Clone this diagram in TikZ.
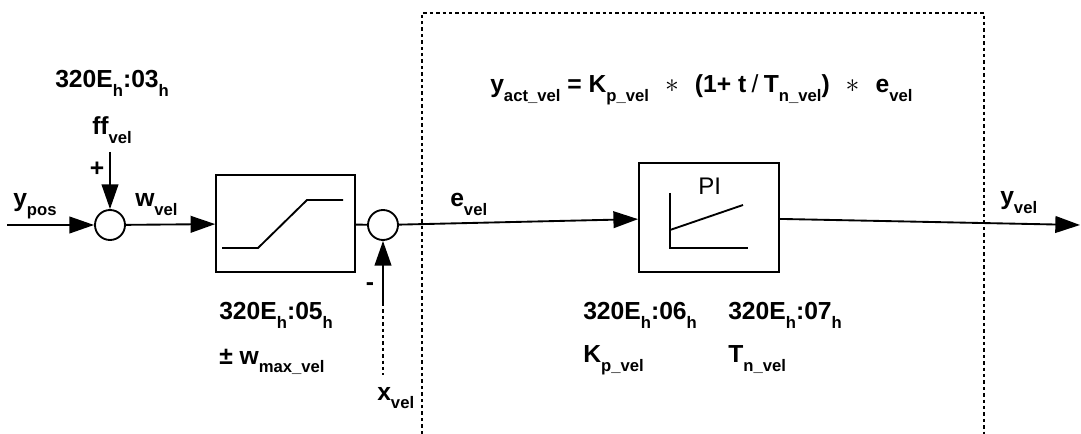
\documentclass[tikz,border=0pt]{standalone}
\usepackage{fontspec}
\setmainfont{Liberation Sans}
\usetikzlibrary{arrows.meta}

\newcommand{\lo}[1]{\raisebox{-6.5pt}{\fontsize{12.5}{13}\selectfont #1}}
\newcommand{\mulsign}{\hspace{12pt}{\fontsize{22}{22}\selectfont$\ast$}\hspace{12pt}}

\tikzset{
  sig/.style={line width=1.4pt},
  flow/.style={sig,-{Triangle[length=18.5pt,width=12.5pt]}},
  sumpt/.style={draw,circle,line width=1.4pt,minimum size=22.5pt,inner sep=0pt},
  blockbox/.style={draw,line width=1.4pt,inner sep=0pt},
  dotline/.style={line width=1.3pt,dash pattern=on 2.6pt off 2.2pt},
  lbl/.style={anchor=base west,inner sep=0pt,font=\fontsize{18.5}{20}\selectfont\bfseries},
}

\begin{document}
\begin{tikzpicture}[x=0.75pt,y=0.75pt,yscale=-1]
\useasboundingbox (0,0) rectangle (1081,434);

%Shape: controller frame
\draw [dotline] (422,434) -- (422,13) -- (984,13) -- (984,434) ;

%Shape: summing points
\node [sumpt] (s1) at (110,225) {};
\node [sumpt] (s2) at (383,225) {};

%Shape: limiter block
\node [blockbox, minimum width=104pt, minimum height=73pt] (lim) at (285.5,223.5) {};
\draw [sig] (222,248) -- (258,248) -- (307,200) -- (343,200) ;

%Shape: PI block
\node [blockbox, minimum width=105pt, minimum height=82pt] (pi) at (709,217.5) {};
\draw [sig] (670,193) -- (670,248) -- (748,248) ;
\draw [sig] (670,230) -- (743,205) ;
\draw (698,195) node [anchor=base west,inner sep=0pt,font=\fontsize{18}{20}\selectfont] (pilbl) {PI};

%Free ends
\coordinate (inp) at (7,225);
\coordinate (ffin) at (110,152);
\coordinate (xmid) at (383,303);
\coordinate (xend) at (383,375);
\coordinate (out) at (1080,225);

%Connectors
\draw [flow] (inp) -- (s1) ;
\draw [flow] (ffin) -- (s1) ;
\draw [flow] (s1) -- (lim) ;
\draw [sig] (lim) -- (s2) ;
\draw [flow] (s2) -- (pi) ;
\draw [flow] (pi) -- (out) ;
\draw [flow] (xmid) -- (s2) ;
\draw [dotline] (xmid) -- (xend) ;

% Text Node
\draw (55,88) node [lbl] (idx03) {320E\lo{h}:03\lo{h}};
% Text Node
\draw (92,135) node [lbl] (ff) {ff\lo{vel}};
% Text Node
\draw (97,169) node [font=\fontsize{18.5}{20}\selectfont\bfseries] (plus) {+};
% Text Node
\draw (13,207) node [lbl] (ypos) {y\lo{pos}};
% Text Node
\draw (135,207) node [lbl] (wvel) {w\lo{vel}};
% Text Node
\draw (450,207) node [lbl] (evel) {e\lo{vel}};
% Text Node
\draw (1000,205) node [lbl] (yvel) {y\lo{vel}};
% Text Node
\draw (490,93) node [lbl] (law) {y\lo{act\_vel} = K\lo{p\_vel}\mulsign(1+ t\hspace{4pt}{\mdseries/}\hspace{4pt}T\lo{n\_vel})\mulsign e\lo{vel}};
% Text Node
\draw (219,320) node [lbl] (idx05) {320E\lo{h}:05\lo{h}};
% Text Node
\draw (219,364) node [lbl] (wmax) {± w\lo{max\_vel}};
% Text Node
\draw (370,287) node [font=\fontsize{18.5}{20}\selectfont\bfseries] (minus) {-};
% Text Node
\draw (377,400) node [lbl] (xvel) {x\lo{vel}};
% Text Node
\draw (583,320) node [lbl] (idx06) {320E\lo{h}:06\lo{h}};
% Text Node
\draw (583,363) node [lbl] (kp) {K\lo{p\_vel}};
% Text Node
\draw (728,320) node [lbl] (idx07) {320E\lo{h}:07\lo{h}};
% Text Node
\draw (728,363) node [lbl] (tn) {T\lo{n\_vel}};

\end{tikzpicture}
\end{document}
